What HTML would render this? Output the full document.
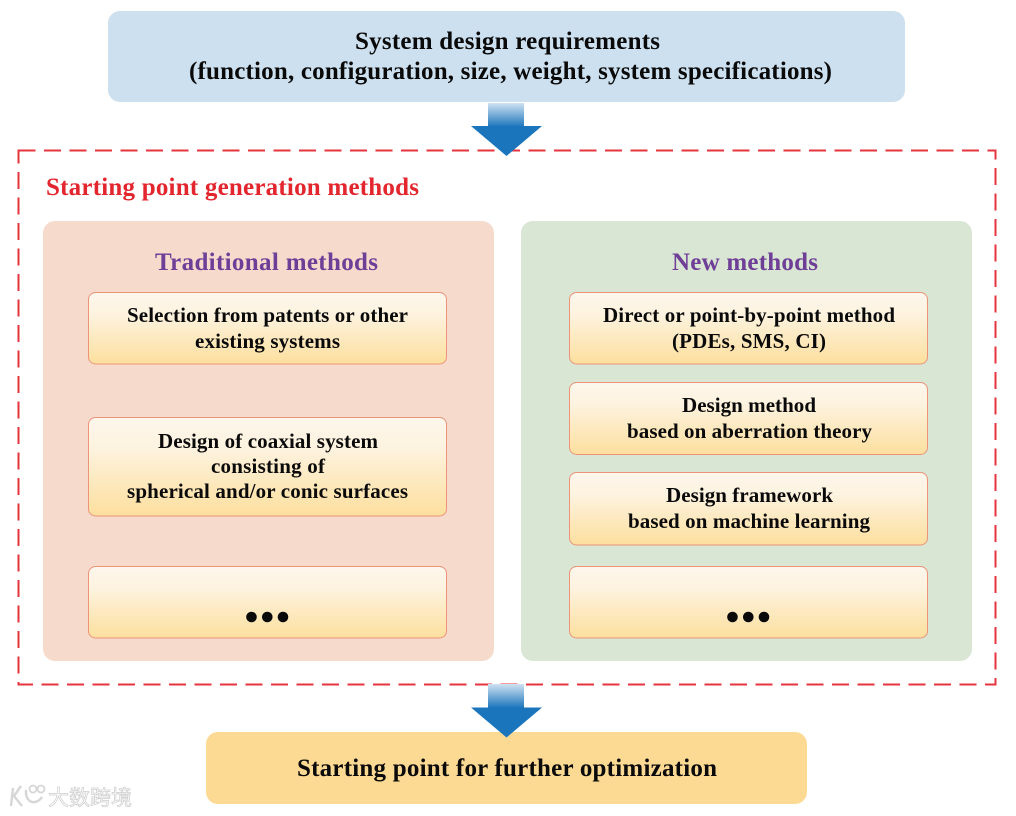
<!DOCTYPE html>
<html>
<head>
<meta charset="utf-8">
<style>
html,body{margin:0;padding:0;background:#fff;width:1016px;height:816px;overflow:hidden}
svg{display:block}
text{font-family:"Liberation Serif",serif;font-weight:bold;fill:#0a0a0a;font-size:21px}
.t{font-size:25px}
.h{font-size:25px;fill:#6f3f98}
.wm{font-family:"Liberation Sans","Noto Sans CJK SC",sans-serif;font-weight:normal;font-size:21px;fill:#fff;stroke:#cdcdcd;stroke-width:.7px}
</style>
</head>
<body>
<svg width="1016" height="816" viewBox="0 0 1016 816" xmlns="http://www.w3.org/2000/svg">
<defs>
<linearGradient id="box" x1="0" y1="0" x2="0" y2="1">
<stop offset="0" stop-color="#fdf6ec"/><stop offset=".3" stop-color="#fdf3e0"/><stop offset="1" stop-color="#fddf9e"/>
</linearGradient>
<linearGradient id="sh" x1="0" y1="0" x2="0" y2="1">
<stop offset="0" stop-color="#cfe2f2"/><stop offset="1" stop-color="#1b75bc"/>
</linearGradient>
</defs>

<rect x="108" y="11" width="797" height="91" rx="12" fill="#cde0ef"/>
<rect x="206" y="732" width="601" height="72" rx="12" fill="#fdda93"/>

<rect x="18.500" y="150.500" width="977" height="534" fill="none" stroke="#e5343d" stroke-width="2" stroke-dasharray="17 8.500"/>

<rect x="43" y="221" width="451" height="440" rx="12" fill="#f6dbcd"/>
<rect x="521" y="221" width="451" height="440" rx="12" fill="#d9e6d4"/>

<g fill="url(#box)" stroke="#ec9379" stroke-width="1">
<rect x="88.500" y="292.500" width="358" height="71.500" rx="7"/>
<rect x="88.500" y="417.500" width="358" height="98.500" rx="7"/>
<rect x="88.500" y="566.500" width="358" height="71.500" rx="7"/>
<rect x="569.500" y="292.500" width="358" height="71.500" rx="7"/>
<rect x="569.500" y="382.500" width="358" height="72" rx="7"/>
<rect x="569.500" y="472.500" width="358" height="72.500" rx="7"/>
<rect x="569.500" y="566.500" width="358" height="71.500" rx="7"/>
</g>

<rect x="488" y="103" width="36" height="24" fill="url(#sh)"/>
<polygon points="471,126 542,126 506.500,156" fill="#1b75bc"/>
<rect x="488" y="684" width="36" height="24" fill="url(#sh)"/>
<polygon points="471,707.500 542,707.500 506.500,737.500" fill="#1b75bc"/>

<text class="t" x="355" y="49" textLength="305" lengthAdjust="spacing">System design requirements</text>
<text class="t" x="189" y="79" textLength="643" lengthAdjust="spacing">(function, configuration, size, weight, system specifications)</text>
<text class="t" x="46" y="195" textLength="373" lengthAdjust="spacing" style="fill:#e3262e">Starting point generation methods</text>
<text class="h" x="155" y="270" textLength="223" lengthAdjust="spacing">Traditional methods</text>
<text class="h" x="672" y="270" textLength="146" lengthAdjust="spacing">New methods</text>

<text x="127" y="322" textLength="281" lengthAdjust="spacing">Selection from patents or other</text>
<text x="195" y="348" textLength="145" lengthAdjust="spacing">existing systems</text>
<text x="158" y="448" textLength="220" lengthAdjust="spacing">Design of coaxial system</text>
<text x="211" y="473" textLength="114" lengthAdjust="spacing">consisting of</text>
<text x="127" y="498" textLength="281" lengthAdjust="spacing">spherical and/or conic surfaces</text>

<text x="603" y="322" textLength="292" lengthAdjust="spacing">Direct or point-by-point method</text>
<text x="672" y="348" textLength="154" lengthAdjust="spacing">(PDEs, SMS, CI)</text>
<text x="682" y="412" textLength="134" lengthAdjust="spacing">Design method</text>
<text x="627" y="438" textLength="245" lengthAdjust="spacing">based on aberration theory</text>
<text x="666" y="502" textLength="167" lengthAdjust="spacing">Design framework</text>
<text x="628" y="528" textLength="242" lengthAdjust="spacing">based on machine learning</text>

<text class="t" x="297" y="776" textLength="420" lengthAdjust="spacing">Starting point for further optimization</text>

<g fill="#0a0a0a">
<circle cx="251.500" cy="617" r="5.300"/><circle cx="267.300" cy="617" r="5.300"/><circle cx="283" cy="617" r="5.300"/>
<circle cx="732.500" cy="617" r="5.300"/><circle cx="748.300" cy="617" r="5.300"/><circle cx="764" cy="617" r="5.300"/>
</g>

<g fill="none" stroke="#d6d6d6" stroke-width="2.400">
<path d="M13 788 L11 806"/>
<path d="M21 786 L14 796 L22 806"/>
<path d="M26 790 C25 803 36 806 42 797"/>
<circle cx="33" cy="789" r="3.500" stroke-width="1.800"/>
<circle cx="41" cy="789" r="3.500" stroke-width="1.800"/>
</g>
<text class="wm" x="48" y="805" textLength="84" lengthAdjust="spacing">大数跨境</text>
</svg>
</body>
</html>
